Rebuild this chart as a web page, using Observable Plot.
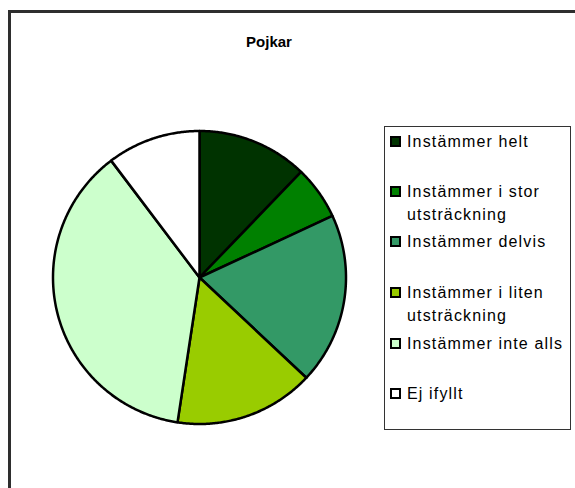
<!DOCTYPE html>
<html>
<head>
<meta charset="utf-8">
<script src="https://cdn.jsdelivr.net/npm/d3@7"></script>
<script src="https://cdn.jsdelivr.net/npm/@observablehq/plot@0.6"></script>
<style>
  html, body { margin: 0; padding: 0; background: #fff; overflow: hidden; }
  #wrap { position: relative; width: 575px; height: 488px; overflow: hidden; font-family: "Liberation Sans", Arial, sans-serif; }
  #frame { position: absolute; left: 8px; top: 10px; width: 620px; height: 520px; border: 3px solid #2e2e2e; box-sizing: border-box; }
  #title { position: absolute; left: 0; width: 538px; top: 33px; text-align: center; font-weight: bold; font-size: 15px; color: #000; }
  #chart { position: absolute; left: 0; top: 0; }
  #legend { position: absolute; left: 384px; top: 126px; width: 187px; height: 304px; border: 1px solid #333; box-sizing: border-box; background: #fff; }
  .item { position: absolute; left: 0; font-size: 16px; letter-spacing: 1.15px; line-height: 23px; color: #000; }
  .sw { position: absolute; left: 5px; top: 5px; width: 11px; height: 11px; border: 2px solid #000; box-sizing: border-box; }
  .lab { position: absolute; left: 22px; top: -1px; white-space: nowrap; }
</style>
</head>
<body>
<div id="wrap">
  <div id="frame"></div>
  <div id="title"></div>
  <div id="chart"></div>
  <div id="legend"></div>
</div>
<script>
const title = "Pojkar";
const categories = ["Instämmer helt", "Instämmer i stor utsträckning", "Instämmer delvis", "Instämmer i liten utsträckning", "Instämmer inte alls", "Ej ifyllt"];
const legendLines = [["Instämmer helt"], ["Instämmer i stor", "utsträckning"], ["Instämmer delvis"], ["Instämmer i liten", "utsträckning"], ["Instämmer inte alls"], ["Ej ifyllt"]];
const values = [12.2, 5.9, 18.9, 15.4, 37.3, 10.3];
const colors = ["#003300", "#008000", "#339966", "#99cc00", "#ccffcc", "#ffffff"];

document.getElementById("title").textContent = title;

// Build slice polygons from the values via d3.pie (0 = 12 o'clock, clockwise)
const arcs = d3.pie().sort(null).value(d => d.value)(categories.map((name, i) => ({name, value: values[i]})));
const pts = [];
for (const a of arcs) {
  const name = a.data.name;
  pts.push({name, x: 0, y: 0});
  const n = Math.max(2, Math.ceil((a.endAngle - a.startAngle) / (Math.PI / 360)));
  for (let k = 0; k <= n; k++) {
    const t = a.startAngle + (a.endAngle - a.startAngle) * k / n;
    pts.push({name, x: Math.sin(t), y: Math.cos(t)});
  }
  pts.push({name, x: 0, y: 0});
}

const plot = Plot.plot({
  width: 575,
  height: 488,
  marginLeft: 52.5,
  marginRight: 229.5,
  marginTop: 130.5,
  marginBottom: 64.5,
  x: {domain: [-1, 1], axis: null},
  y: {domain: [-1, 1], axis: null},
  color: {domain: categories, range: colors},
  style: {background: "transparent", overflow: "visible"},
  marks: [
    Plot.line(pts, {x: "x", y: "y", z: "name", fill: "name", stroke: "#000", strokeWidth: 2.5, strokeLinejoin: "round", curve: "linear"})
  ]
});
document.getElementById("chart").appendChild(plot);

// Legend
const legend = document.getElementById("legend");
const itemTops = [4, 54, 104, 155, 206, 256];
categories.forEach((c, i) => {
  const it = document.createElement("div");
  it.className = "item";
  it.style.top = itemTops[i] + "px";
  const sw = document.createElement("div");
  sw.className = "sw";
  sw.style.background = colors[i];
  const lab = document.createElement("div");
  lab.className = "lab";
  lab.innerHTML = legendLines[i].join("<br>");
  it.appendChild(sw);
  it.appendChild(lab);
  legend.appendChild(it);
});
</script>
</body>
</html>
